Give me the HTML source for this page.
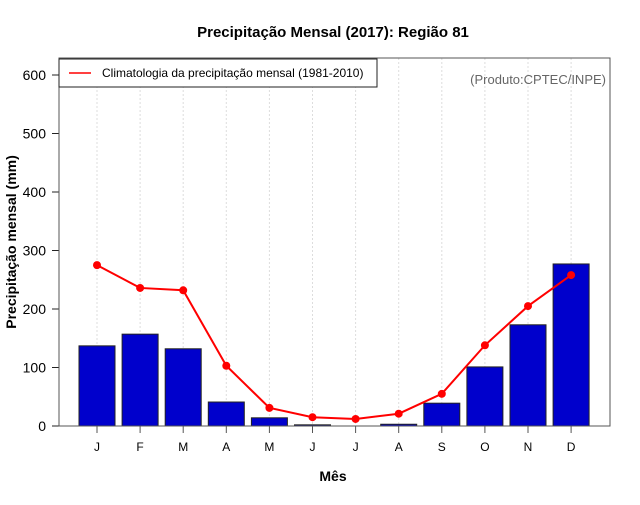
<!DOCTYPE html>
<html><head><meta charset="utf-8"><style>
body{margin:0;background:#fff;font-family:"Liberation Sans",sans-serif}
</style></head><body>
<svg id="c" width="640" height="500" xmlns="http://www.w3.org/2000/svg" font-family="Liberation Sans, sans-serif">
<text x="333" y="37" text-anchor="middle" font-size="15" font-weight="bold">Precipitação Mensal (2017): Região 81</text>
<text x="333" y="481" text-anchor="middle" font-size="14" font-weight="bold">Mês</text>
<text transform="translate(16,242) rotate(-90)" text-anchor="middle" font-size="14" font-weight="bold">Precipitação mensal (mm)</text>
<g id="grid"></g><g id="bars"></g><g id="line"></g><g id="axes"></g>
<rect x="59" y="58" width="551" height="368" fill="none" stroke="#555"/>
<g>
<rect x="59" y="59" width="318" height="28" fill="#fff" stroke="#222"/>
<line x1="69" y1="73" x2="91" y2="73" stroke="red" stroke-width="1.5"/>
<text x="102" y="77" font-size="12">Climatologia da precipitação mensal (1981-2010)</text>
</g>
<text x="606" y="84" text-anchor="end" font-size="13" fill="#666">(Produto:CPTEC/INPE)</text>
</svg>
<script>
const months=["J","F","M","A","M","J","J","A","S","O","N","D"];
const precip2017=[137,157,132,41,14,2,0,3,39,101,173,277];
const climatology=[275,236,232,103,31,15,12,21,55,138,205,258];
const yTicks=[0,100,200,300,400,500,600];
const NS="http://www.w3.org/2000/svg";
const xs=i=>97+43.1*i;
const ys=v=>426-v*0.585;
function mk(p,t,a){const e=document.createElementNS(NS,t);for(const k in a)e.setAttribute(k,a[k]);document.getElementById(p).appendChild(e);return e;}
months.forEach((m,i)=>{
  const g=mk('grid','line',{x1:xs(i),x2:xs(i),y1:58,y2:426,stroke:'#ddd','stroke-dasharray':'2,2'});
  
  
  const t=mk('axes','line',{x1:xs(i),x2:xs(i),y1:426,y2:433,stroke:'#555'});
  
  
  const l=mk('axes','text',{x:xs(i),y:451,'text-anchor':'middle','font-size':12});
  l.textContent=m;
  
  
  const v=precip2017[i];
  const b=mk('bars','rect',{x:xs(i)-18,y:ys(v),width:36,height:426-ys(v),fill:'#0000cc',stroke:'#222'});
  
  
});
yTicks.forEach(v=>{
  const t=mk('axes','line',{x1:52,x2:59,y1:ys(v),y2:ys(v),stroke:'#222'});
  
  
  const l=mk('axes','text',{x:46,y:ys(v)+5,'text-anchor':'end','font-size':14});
  l.textContent=v;
  
  
});
const pl=mk('line','polyline',{points:climatology.map((v,i)=>xs(i)+','+ys(v)).join(' '),fill:'none',stroke:'red','stroke-width':2});


climatology.forEach((v,i)=>{
  const c=mk('line','circle',{cx:xs(i),cy:ys(v),r:4,fill:'red'});
  
  
});
const ax=mk('axes','line',{x1:59,x2:610,y1:426,y2:426,stroke:'#000'});


</script>
</body></html>
